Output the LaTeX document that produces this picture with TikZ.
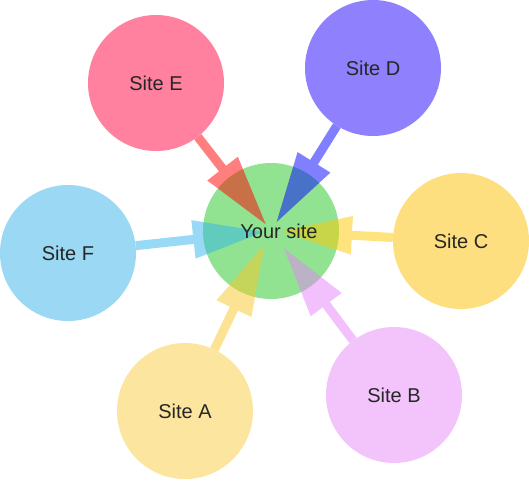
\documentclass[tikz,border=0pt]{standalone}
\usepackage{fontspec}
\setmainfont{Liberation Sans}
\usepackage{tikz}
\usetikzlibrary{arrows.meta}
\definecolor{hubgreen}{RGB}{145,227,145}
\definecolor{siteA}{RGB}{252,229,159}
\definecolor{siteB}{RGB}{243,196,251}
\definecolor{siteC}{RGB}{253,223,127}
\definecolor{siteD}{RGB}{143,128,253}
\definecolor{siteE}{RGB}{255,128,159}
\definecolor{siteF}{RGB}{154,216,243}
\definecolor{linkA}{RGB}{250,200,40}
\definecolor{linkB}{RGB}{230,130,250}
\definecolor{linkC}{RGB}{255,200,0}
\definecolor{linkD}{RGB}{0,0,255}
\definecolor{linkE}{RGB}{255,0,0}
\definecolor{linkF}{RGB}{50,180,235}
\tikzset{
  site/.style={circle, minimum size=136pt, inner sep=0pt},
  tag/.style={font=\fontsize{20}{22}\selectfont, text=black!85},
  feed/.style={line width=9pt, -{Triangle[length=72pt,width=36pt]}, shorten >=9pt},
}

\begin{document}
\begin{tikzpicture}[x=1pt,y=-1pt]
            \useasboundingbox (0,0) rectangle (529,480);
            \draw (271,231) node[site, fill=hubgreen]                       (hub) {};
            \draw (185,411) node[site, fill=siteA]                          (a) {};
            \draw (394,395) node[site, fill=siteB]                          (b) {};
            \draw (461,241) node[site, fill=siteC]                          (c) {};
            \draw (373,68) node[site, fill=siteD]                           (d) {};
            \draw (156,83) node[site, fill=siteE]                           (e) {};
            \draw (68,253) node[site, fill=siteF]                           (f) {};
            \begin{scope}[transparency group, opacity=.5]
            \draw[feed, color=linkA, shorten >=14pt] (a) -- (hub.center);
            \draw[feed, color=linkB, shorten >=20pt] (b) -- (hub.center);
            \draw[feed, color=linkC] (c) -- (hub.center);
            \draw[feed, color=linkD] (d) -- (hub.center);
            \draw[feed, color=linkE, shorten >=7pt] (e) -- (hub.center);
            \draw[feed, color=linkF, shorten >=6pt] (f) -- (hub.center);
            \end{scope}
            \node[tag] (hubtxt) at ([xshift=8pt]hub.center) {Your site};
            \node[tag] (atxt) at (a.center) {Site A};
            \node[tag] (btxt) at (b.center) {Site B};
            \node[tag] (ctxt) at (c.center) {Site C};
            \node[tag] (dtxt) at (d.center) {Site D};
            \node[tag] (etxt) at (e.center) {Site E};
            \node[tag] (ftxt) at (f.center) {Site F};
\end{tikzpicture}
\end{document}
